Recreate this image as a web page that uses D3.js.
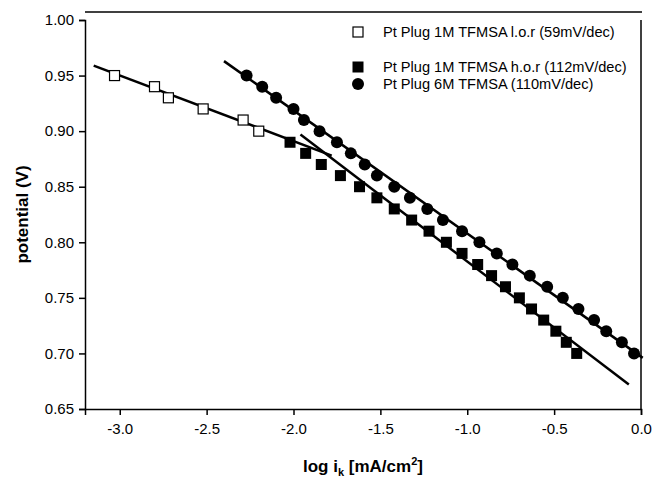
<!DOCTYPE html>
<html>
<head>
<meta charset="utf-8">
<script src="https://cdn.jsdelivr.net/npm/d3@7"></script>
<style>
  body { margin: 0; background: #fff; }
  svg text { font-family: "Liberation Sans", Arial, sans-serif; fill: #000; }
</style>
</head>
<body>
<div id="chart"></div>
<script>
// Pt Plug 1M TFMSA l.o.r (open squares)
var lorLogI = [-3.03, -2.80, -2.72, -2.52, -2.29, -2.20];
var lorPot  = [0.95, 0.94, 0.93, 0.92, 0.91, 0.90];

// Pt Plug 1M TFMSA h.o.r (filled squares)
var horLogI = [-2.02, -1.93, -1.84, -1.73, -1.62, -1.52, -1.42, -1.32, -1.22, -1.12,
               -1.03, -0.94, -0.86, -0.78, -0.70, -0.63, -0.56, -0.49, -0.43, -0.37];
var horPot  = [0.89, 0.88, 0.87, 0.86, 0.85, 0.84, 0.83, 0.82, 0.81, 0.80,
               0.79, 0.78, 0.77, 0.76, 0.75, 0.74, 0.73, 0.72, 0.71, 0.70];

// Pt Plug 6M TFMSA (filled circles)
var m6LogI = [-2.27, -2.18, -2.10, -2.00, -1.94, -1.85, -1.75, -1.67, -1.59, -1.52,
              -1.42, -1.33, -1.23, -1.14, -1.03, -0.93, -0.83, -0.74, -0.64, -0.54,
              -0.45, -0.36, -0.27, -0.20, -0.11, -0.04];
var m6Pot  = [0.95, 0.94, 0.93, 0.92, 0.91, 0.90, 0.89, 0.88, 0.87, 0.86,
              0.85, 0.84, 0.83, 0.82, 0.81, 0.80, 0.79, 0.78, 0.77, 0.76,
              0.75, 0.74, 0.73, 0.72, 0.71, 0.70];

// fitted Tafel lines, end points [logI, potential]
var lorFit = [[-3.15, 0.959], [-1.78, 0.878]];
var horFit = [[-1.96, 0.897], [-0.07, 0.672]];
var m6Fit  = [[-2.40, 0.963], [0.01, 0.696]];

var xTicks = [-3.0, -2.5, -2.0, -1.5, -1.0, -0.5, 0.0];
var yTicks = [0.65, 0.70, 0.75, 0.80, 0.85, 0.90, 0.95, 1.00];

var legendLabels = ["Pt Plug 1M TFMSA l.o.r (59mV/dec)",
                    "Pt Plug 1M TFMSA h.o.r (112mV/dec)",
                    "Pt Plug 6M TFMSA (110mV/dec)"];

(function() {

    var width = 652, height = 479;
    var plotL = 85, plotR = 641, plotT = 20, plotB = 409;

    var svg = d3.select("#chart").append("svg")
        .attr("width", width)
        .attr("height", height);

    var x = d3.scaleLinear().domain([-3.2, 0]).range([plotL, plotR]);
    var y = d3.scaleLinear().domain([0.65, 1.0]).range([plotB, plotT]);

    // top frame line (sits a little above the 1.00 level)
    svg.append("line")
        .attr("x1", plotL).attr("x2", plotR + 1)
        .attr("y1", plotT - 8).attr("y2", plotT - 8)
        .style("stroke", "black").style("stroke-width", 1.5);

    // right frame line
    svg.append("line")
        .attr("x1", plotR).attr("x2", plotR)
        .attr("y1", plotT).attr("y2", plotB)
        .style("stroke", "black").style("stroke-width", 1.5);

    var hyphen = function(f) { return function(d) { return f(d).replace("\u2212", "-"); }; };

    var xAxis = svg.append("g")
        .attr("transform", "translate(0," + plotB + ")")
        .call(d3.axisBottom(x).tickValues(xTicks).tickSize(6).tickPadding(8)
            .tickFormat(hyphen(d3.format(".1f"))));

    var yAxis = svg.append("g")
        .attr("transform", "translate(" + plotL + ",0)")
        .call(d3.axisLeft(y).tickValues(yTicks).tickSize(6).tickPadding(5)
            .tickFormat(d3.format(".2f")));

    [xAxis, yAxis].forEach(function(g) {
        g.select(".domain").style("stroke-width", 1.5);
        g.selectAll(".tick line").style("stroke-width", 1.5);
        g.selectAll(".tick text").style("font-size", "15px")
            .style("font-family", "'Liberation Sans', Arial, sans-serif");
    });

    // axis titles
    svg.append("text")
        .attr("transform", "translate(28," + ((plotT + plotB) / 2) + ") rotate(-90)")
        .attr("text-anchor", "middle")
        .style("font-size", "17px")
        .style("font-weight", "bold")
        .text("potential (V)");

    var xt = svg.append("text")
        .attr("x", (plotL + plotR) / 2)
        .attr("y", 472)
        .attr("text-anchor", "middle")
        .style("font-size", "17px")
        .style("font-weight", "bold");
    xt.append("tspan").text("log i");
    xt.append("tspan").attr("dy", 4).style("font-size", "11px").text("k");
    xt.append("tspan").attr("dy", -4).text(" [mA/cm");
    xt.append("tspan").attr("dy", -7).style("font-size", "11px").text("2");
    xt.append("tspan").attr("dy", 7).text("]");

    // fit lines
    var line = d3.line()
        .x(function(d) { return x(d[0]); })
        .y(function(d) { return y(d[1]); });

    svg.selectAll("path.fit")
        .data([lorFit, horFit, m6Fit])
        .enter().append("path")
            .attr("class", "fit")
            .attr("d", line)
            .style("fill", "none")
            .style("stroke", "black")
            .style("stroke-width", 2.5);

    // markers
    var sq = 11;
    svg.selectAll("rect.lor")
        .data(d3.zip(lorLogI, lorPot))
        .enter().append("rect")
            .attr("class", "lor")
            .attr("x", function(d) { return x(d[0]) - sq / 2 + 0.5; })
            .attr("y", function(d) { return y(d[1]) - sq / 2 + 0.5; })
            .attr("width", sq - 1)
            .attr("height", sq - 1)
            .style("fill", "white")
            .style("stroke", "black")
            .style("stroke-width", 1.2);

    svg.selectAll("rect.hor")
        .data(d3.zip(horLogI, horPot))
        .enter().append("rect")
            .attr("class", "hor")
            .attr("x", function(d) { return x(d[0]) - sq / 2; })
            .attr("y", function(d) { return y(d[1]) - sq / 2; })
            .attr("width", sq)
            .attr("height", sq)
            .style("fill", "black");

    svg.selectAll("circle.m6")
        .data(d3.zip(m6LogI, m6Pot))
        .enter().append("circle")
            .attr("class", "m6")
            .attr("cx", function(d) { return x(d[0]); })
            .attr("cy", function(d) { return y(d[1]); })
            .attr("r", 6)
            .style("fill", "black");

    // legend
    var legY = [32, 67, 84];
    var legX = 358;
    var leg = svg.append("g").attr("class", "legend");

    leg.append("rect")
        .attr("x", legX - 5).attr("y", legY[0] - 5)
        .attr("width", 10).attr("height", 10)
        .style("fill", "white").style("stroke", "black").style("stroke-width", 1.2);
    leg.append("rect")
        .attr("x", legX - 5.5).attr("y", legY[1] - 5.5)
        .attr("width", 11).attr("height", 11)
        .style("fill", "black");
    leg.append("circle")
        .attr("cx", legX).attr("cy", legY[2])
        .attr("r", 6)
        .style("fill", "black");

    leg.selectAll("text")
        .data(legendLabels)
        .enter().append("text")
            .attr("x", legX + 25)
            .attr("y", function(d, i) { return legY[i] + 5; })
            .style("font-size", "14.6px")
            .text(function(d) { return d; });

}());
</script>
</body>
</html>
